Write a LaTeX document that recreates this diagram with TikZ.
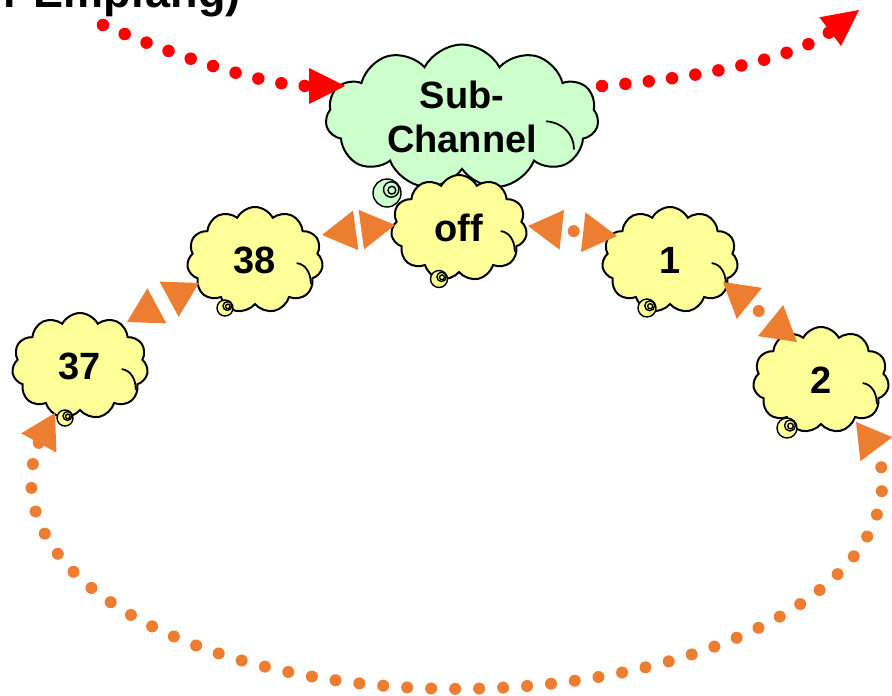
\documentclass[tikz,border=0pt]{standalone}
\usepackage{fontspec}
\setmainfont{Liberation Sans}
\usetikzlibrary{shapes.symbols,arrows.meta}
\definecolor{cgreen}{HTML}{CCFFCC}
\definecolor{cyellow}{HTML}{FFFF99}
\definecolor{corange}{HTML}{ED7D31}
\definecolor{cred}{HTML}{FF0000}
\tikzset{
  thought/.style={cloud, cloud puffs=11, cloud puff arc=125, cloud ignores aspect,
    draw=black, line width=2pt, inner sep=0pt, align=center,
    font=\fontsize{38}{44}\selectfont\bfseries},
  ycloud/.style={thought, fill=cyellow, minimum width=136pt, minimum height=106pt},
  gcloud/.style={thought, fill=cgreen, minimum width=273pt, minimum height=145pt},
  bub/.style={draw=black, line width=1.4pt},
  puffline/.style={draw=black, line width=1.8pt, line cap=round},
  reddots/.style={draw=cred, line width=12.5pt, line cap=round,
    dash pattern=on 0pt off 23.5pt, -{Triangle[length=36pt 0, width=36pt 0, line width=0pt 0 0]}},
  orgdots/.style={draw=corange, line width=12pt, line cap=round,
    dash pattern=on 0pt off 24pt, dash phase=12pt,
    {Triangle[length=34pt 0, width=40pt 0, line width=0pt 0 0]}-{Triangle[length=34pt 0, width=40pt 0, line width=0pt 0 0]}},
  nodots/.style={dash pattern=on 0pt off 60pt, dash phase=30pt},
}
\newcommand\thoughtbub[4]{%
  \draw[bub, fill=#4] (#1,#2) circle[radius=#3];
  \draw[bub] ({#1+0.3*#3},{#2-0.25*#3}) circle[radius={0.55*#3}];
  \draw[bub] ({#1+0.35*#3},{#2-0.2*#3}) circle[radius={0.28*#3}];
}
% inner puff line of a cloud: node, width, height
\newcommand\puffmark[3]{%
  \draw[puffline] ([shift={({0.31*#2},{0.03*#3})}]#1.center)
    .. controls ([shift={({0.37*#2},{0.04*#3})}]#1.center)
    and ([shift={({0.41*#2},{0.12*#3})}]#1.center)
    .. ([shift={({0.41*#2},{0.22*#3})}]#1.center);
}
\begin{document}
\begin{tikzpicture}[x=1pt,y=-1pt]
\useasboundingbox (0,0) rectangle (892,696);

% title (cut at the top edge, as in the reference)
\node[font=\fontsize{45}{50}\selectfont\bfseries, anchor=base east, inner sep=0pt] (title) at (241,7) {r Empfang)};

% green cloud
\node[gcloud] (sub) at (462,117) {Sub-\\Channel};
\puffmark{sub}{273}{145}
\thoughtbub{387}{193}{14}{cgreen}

% yellow clouds
\node[ycloud] (off) at (459,228) {off};
\puffmark{off}{136}{106}
\thoughtbub{439}{279}{8.5}{cyellow}
\node[ycloud] (n38) at (255,260) {38};
\puffmark{n38}{136}{106}
\thoughtbub{225}{308}{8}{cyellow}
\node[ycloud] (n37) at (80,366) {37};
\puffmark{n37}{136}{106}
\thoughtbub{65}{418}{8}{cyellow}
\node[ycloud] (n1) at (670,260) {1};
\puffmark{n1}{136}{106}
\thoughtbub{647}{308}{9}{cyellow}
\node[ycloud] (n2) at (821,380) {2};
\puffmark{n2}{136}{106}
\thoughtbub{787}{428}{10}{cyellow}

% free ends of the red connectors
\coordinate (redstart) at (103,25);
\coordinate (redend) at (859,10);

% red connectors
\draw[reddots] (redstart) .. controls (190,62) and (270,86) .. ([shift={(-117,-31)}]sub.center);
\draw[reddots] ([shift={(140,-31)}]sub.center) .. controls (680,80) and (790,62) .. (redend);

% orange connectors between clouds
\draw[orgdots, nodots] ([shift={(67,-25)}]n38.center) -- ([shift={(-64,-3)}]off.center);
\draw[orgdots] ([shift={(69,-2)}]off.center) -- ([shift={(-53,-24)}]n1.center);
\draw[orgdots, nodots] ([shift={(47,-44)}]n37.center) -- ([shift={(-56,23)}]n38.center);
\draw[orgdots] ([shift={(53,22)}]n1.center) -- ([shift={(-24,-38)}]n2.center);
\draw[orgdots, dash phase=0pt] ([shift={(-25,47)}]n37.center) -- ++(-15.7,29)
   arc[start angle=191.1, end angle=-8.7, x radius=425.5, y radius=207]
   -- ([shift={(35,42)}]n2.center);
\end{tikzpicture}
\end{document}
